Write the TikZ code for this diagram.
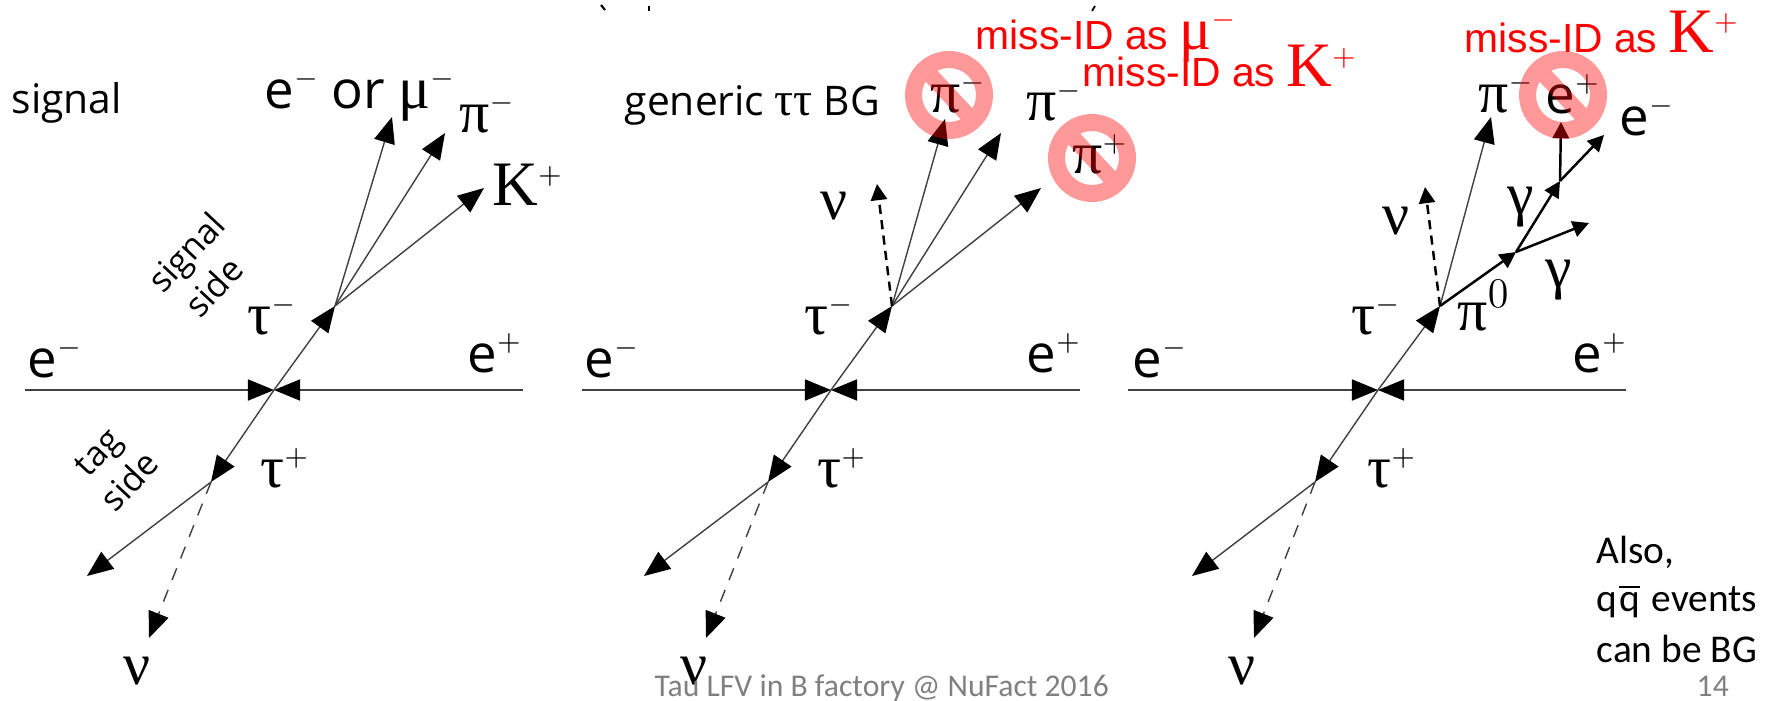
\documentclass[tikz,border=0pt]{standalone}
\usepackage{fontspec}
\setmainfont{Open Sans}
\newfontfamily\symbfont{Liberation Serif}
\newfontfamily\arialfont{Liberation Sans}
\newfontfamily\calfont{Carlito}
\usetikzlibrary{arrows.meta}
\tikzset{
	thinline/.style={line width=0.4pt, draw=black!75},
	bigarrow/.style={thinline, -{Triangle[length=7.4pt,width=6pt,color=black]}},
	dashline/.style={bigarrow, dash pattern=on 3.6pt off 3pt},
	boldarrow/.style={line width=0.7pt, -{Triangle[length=4.6pt,width=4.6pt]}},
	bolddash/.style={boldarrow, dash pattern=on 2.6pt off 1.8pt},
	slidetext/.style={font=\fontsize{11.6}{13}\selectfont, anchor=base west, inner sep=0pt},
	sidetext/.style={font=\fontsize{9.8}{12.5}\selectfont, align=center, inner sep=0pt, rotate=47},
	lepton/.style={font=\fontsize{15}{17}\selectfont, anchor=base west, inner sep=0pt},
	greek/.style={font=\symbfont\fontsize{17}{20}\selectfont, anchor=base west, inner sep=0pt},
	kaon/.style={font=\symbfont\fontsize{18}{20}\selectfont, anchor=base west, inner sep=0pt},
	missid/.style={font=\arialfont\fontsize{11.6}{13}\selectfont, text=red, anchor=base west, inner sep=0pt},
	noteline/.style={font=\calfont\fontsize{11.2}{13}\selectfont, anchor=base west, inner sep=0pt},
	footer/.style={font=\calfont\fontsize{9}{10}\selectfont, text=black!50, anchor=base west, inner sep=0pt},
	nofill/.style={fill=red, fill opacity=0.4}
}
\newcommand{\supr}[1]{\raisebox{6pt}{\fontsize{8.5}{9}\selectfont$#1$}}
\newcommand{\redK}{{\symbfont\fontsize{18}{20}\selectfont K\supr{+}}}
\newcommand{\nosign}[1]{
	\begin{scope}[shift={(#1)}]
		\fill[nofill, even odd rule] (0,0) circle (44) (0,0) circle (27);
		\begin{scope}
			\clip (0,0) circle (27);
			\fill[nofill, rotate=-47] (-30,-8) rectangle (30,8);
		\end{scope}
	\end{scope}
}

\begin{document}
\begin{tikzpicture}[x=0.01cm, y=-0.01cm]
	\useasboundingbox (0,0) rectangle (1773,700);

	% signal panel
	\coordinate (cA) at (274,390);
	\coordinate (beamLA) at (25,390);
	\coordinate (beamRA) at (523,390);
	\coordinate (tauMA) at (335,306);
	\coordinate (tauPA) at (211,482);
	\coordinate (tagA) at (87,576);
	\coordinate (nuA) at (149,638);
	\coordinate (lepA) at (392,117);
	\coordinate (pionA) at (445,133);
	\coordinate (kaonA) at (484,188);
	\draw[bigarrow] (beamLA) -- (cA);
	\draw[bigarrow] (beamRA) -- (cA);
	\draw[bigarrow] (cA) -- (tauMA);
	\draw[bigarrow] (cA) -- (tauPA);
	\draw[bigarrow] (tauPA) -- (tagA);
	\draw[dashline] (tauPA) -- (nuA);
	\draw[bigarrow] (tauMA) -- (lepA);
	\draw[bigarrow] (tauMA) -- (pionA);
	\draw[bigarrow] (tauMA) -- (kaonA);
	\node[slidetext] (titleA) at (11,113) {signal};
	\node[lepton] (finalA) at (264,108) {e\supr{-} or {\symbfont\fontsize{17}{20}\selectfont μ}\supr{-}};
	\node[greek] (pilabelA) at (459,132) {π\supr{-}};
	\node[kaon] (klabelA) at (492,205) {K\supr{+}};
	\node[sidetext, align=left] (signalside) at (202,267) {signal\\\hspace{2pt}side};
	\node[sidetext] (tagside) at (114,467) {tag\\side};
	\node[greek] (taumA) at (247,334) {τ\supr{-}};
	\node[greek] (taupA) at (260,487) {τ\supr{+}};
	\node[lepton] (emA) at (27,377) {e\supr{-}};
	\node[lepton] (epA) at (467,372) {e\supr{+}};
	\node[greek] (nulabelA) at (123,684) {ν};

	% generic tau tau panel
	\coordinate (cB) at (831,390);
	\coordinate (beamLB) at (582,390);
	\coordinate (beamRB) at (1080,390);
	\coordinate (tauMB) at (892,306);
	\coordinate (tauPB) at (768,482);
	\coordinate (tagB) at (644,576);
	\coordinate (nuB) at (706,638);
	\coordinate (pioneB) at (945,119);
	\coordinate (piontB) at (1001,133);
	\coordinate (pionuB) at (1041,188);
	\coordinate (nutopB) at (877,184);
	\draw[bigarrow] (beamLB) -- (cB);
	\draw[bigarrow] (beamRB) -- (cB);
	\draw[bigarrow] (cB) -- (tauMB);
	\draw[bigarrow] (cB) -- (tauPB);
	\draw[bigarrow] (tauPB) -- (tagB);
	\draw[dashline] (tauPB) -- (nuB);
	\draw[bigarrow] (tauMB) -- (pioneB);
	\draw[bigarrow] (tauMB) -- (piontB);
	\draw[bigarrow] (tauMB) -- (pionuB);
	\draw[bolddash] (tauMB) -- (nutopB);
	\node[slidetext] (titleB) at (624,115) {generic {\symbfont\fontsize{13.5}{15}\selectfont ττ} BG};
	\node[greek] (pioneL) at (930,112) {π\supr{-}};
	\node[greek] (piontL) at (1026,120) {π\supr{-}};
	\node[greek] (pionuL) at (1072,173) {π\supr{+}};
	\node[greek] (nulabelB) at (820,219) {ν};
	\node[greek] (taumB) at (804,334) {τ\supr{-}};
	\node[greek] (taupB) at (817,487) {τ\supr{+}};
	\node[lepton] (emB) at (584,377) {e\supr{-}};
	\node[lepton] (epB) at (1026,372) {e\supr{+}};
	\node[greek] (nulabelC) at (680,684) {ν};
	\node[missid] (missmu) at (975,49) {miss-ID as {\symbfont\fontsize{17}{20}\selectfont μ}\supr{-}};
	\node[missid] (missk) at (1082,87) {miss-ID as \redK};

	% pi0 panel
	\coordinate (cC) at (1378,390);
	\coordinate (beamLC) at (1128,390);
	\coordinate (beamRC) at (1626,390);
	\coordinate (tauMC) at (1440,306);
	\coordinate (tauPC) at (1315,482);
	\coordinate (tagC) at (1192,576);
	\coordinate (nuC) at (1254,638);
	\coordinate (pionC) at (1491,117);
	\coordinate (nutopC) at (1425,187);
	\coordinate (pizero) at (1516,252);
	\coordinate (gamone) at (1589,223);
	\coordinate (convert) at (1560,181);
	\coordinate (elec) at (1604,135);
	\coordinate (posi) at (1561,122);
	\draw[bigarrow] (beamLC) -- (cC);
	\draw[bigarrow] (beamRC) -- (cC);
	\draw[bigarrow] (cC) -- (tauMC);
	\draw[bigarrow] (cC) -- (tauPC);
	\draw[bigarrow] (tauPC) -- (tagC);
	\draw[dashline] (tauPC) -- (nuC);
	\draw[bigarrow] (tauMC) -- (pionC);
	\draw[bolddash] (tauMC) -- (nutopC);
	\draw[boldarrow] (tauMC) -- (pizero);
	\draw[boldarrow] (pizero) -- (gamone);
	\draw[boldarrow] (pizero) -- (convert);
	\draw[boldarrow] (convert) -- (elec);
	\draw[boldarrow] (convert) -- (posi);
	\node[greek] (pionL) at (1478,112) {π\supr{-}};
	\node[lepton] (eplus) at (1545,113) {e\supr{+}};
	\node[lepton] (eminus) at (1619,135) {e\supr{-}};
	\node[greek] (gamupper) at (1507,214) {γ};
	\node[greek] (gamlower) at (1545,287) {γ};
	\node[greek] (pizeroL) at (1457,330) {π$^{0}$};
	\node[greek] (nulabelD) at (1382,234) {ν};
	\node[greek] (taumC) at (1351,334) {τ\supr{-}};
	\node[greek] (taupC) at (1367,487) {τ\supr{+}};
	\node[lepton] (emC) at (1132,377) {e\supr{-}};
	\node[lepton] (epC) at (1572,372) {e\supr{+}};
	\node[greek] (nulabelE) at (1228,684) {ν};
	\node[missid] (missc) at (1464,52) {miss-ID as \redK};

	% notes and footer
	\node[noteline] (noteA) at (1596,563) {Also,};
	\node[noteline] (noteB) at (1596,611) {q\kern0.5pt$\overline{\mbox{q}}$\kern0.8pt\ events};
	\node[noteline] (noteC) at (1596,662) {can be BG};
	\node[footer] (foot) at (654,696) {Tau LFV in B factory @ NuFact 2016};
	\node[footer] (pagenum) at (1696,696) {14};

	% clipped marks on the top edge
	\draw[line width=0.6pt] (601,5) -- (605,10);
	\draw[line width=0.8pt] (649,6) -- (649,11);
	\draw[line width=0.5pt] (1092,11) -- (1095,6);

	% forbidden signs go on top
	\nosign{949,95}
	\nosign{1092,158}
	\nosign{1563,95}
\end{tikzpicture}
\end{document}
